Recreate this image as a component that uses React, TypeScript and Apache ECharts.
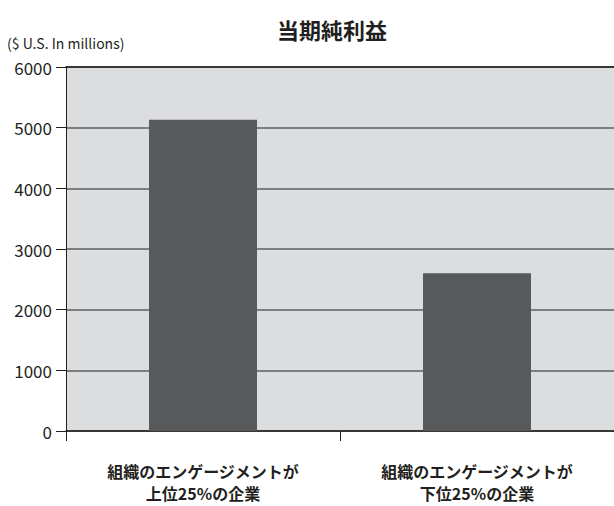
import React, { useEffect, useRef } from "react";
import * as echarts from "echarts";

const categories = [
  "組織のエンゲージメントが\n上位25%の企業",
  "組織のエンゲージメントが\n下位25%の企業",
];
const netIncome = [5130, 2600];
const titleText = "当期純利益";
const unitText = "($ U.S. In millions)";

const FONT = '"Noto Sans CJK JP", "Noto Sans", sans-serif';

export default function App() {
  const ref = useRef<HTMLDivElement>(null);
  useEffect(() => {
    if (!ref.current) return;
    const chart = echarts.init(ref.current, null, { renderer: "svg" });
    chart.setOption({
      animation: false,
      backgroundColor: "#ffffff",
      title: {
        text: titleText,
        left: 327,
        textAlign: "center",
        top: 13,
        textStyle: { fontFamily: FONT, fontSize: 22, fontWeight: "bold", color: "#231f20" },
      },
      graphic: [
        {
          type: "text",
          left: 7,
          top: 36,
          style: { text: unitText, fontFamily: FONT, fontSize: 14, fill: "#231f20" },
        },
      ],
      grid: {
        left: 66,
        top: 67,
        width: 554,
        bottom: 75,
        show: true,
        backgroundColor: "#dcdddf",
        borderWidth: 0,
      },
      xAxis: [
        {
          type: "category",
          data: categories,
          axisLine: { show: true, lineStyle: { color: "#231f20", width: 1.5 } },
          axisTick: { show: true, length: 10, lineStyle: { color: "#231f20", width: 1 } },
          axisLabel: {
            interval: 0,
            margin: 29,
            fontFamily: FONT,
            fontSize: 16,
            fontWeight: "bold",
            lineHeight: 22,
            color: "#231f20",
          },
        },
        {
          type: "category",
          position: "top",
          data: categories,
          axisLine: { show: true, lineStyle: { color: "#231f20", width: 1.5 } },
          axisTick: { show: false },
          axisLabel: { show: false },
        },
      ],
      yAxis: {
        type: "value",
        min: 0,
        max: 6000,
        interval: 1000,
        axisLine: { show: true, lineStyle: { color: "#231f20", width: 1 } },
        axisTick: { show: true, length: 10, lineStyle: { color: "#231f20" } },
        axisLabel: {
          margin: 14,
          fontFamily: FONT,
          fontSize: 17,
          color: "#231f20",
          formatter: (v: number) => String(v),
        },
        splitLine: { show: true, lineStyle: { color: "#7d7e80", width: 2 } },
      },
      series: [
        {
          type: "bar",
          data: netIncome,
          barWidth: 108,
          itemStyle: { color: "#58595b" },
          z: 3,
        },
      ],
    });
    return () => chart.dispose();
  }, []);
  return (
    <div
      ref={ref}
      style={{ position: "fixed", left: 0, top: 0, width: 614, height: 506 }}
    />
  );
}
